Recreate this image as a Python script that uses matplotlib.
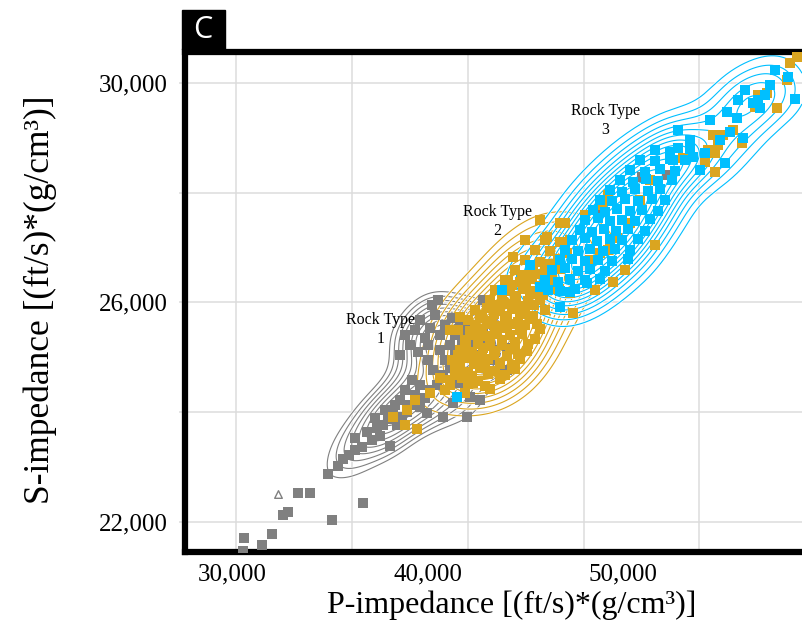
import numpy as np
import matplotlib.pyplot as plt
import matplotlib.patheffects as pe
from matplotlib.patches import Rectangle

# P-impedance / S-impedance samples for the three rock types
gray_pts = [
    (30560, 21470), (30610, 21710), (31530, 21580), (32050, 21780), (32610, 22120),
    (32860, 22180), (33380, 22530), (33990, 22530), (35120, 22030), (36700, 22340),
    (34910, 22870), (35420, 23020), (35680, 23150), (35980, 23220), (36290, 23310),
    (36650, 23360), (36290, 23530), (36910, 23640), (37420, 23710), (37720, 23770),
    (38080, 23380), (37980, 23870), (38240, 23980), (38700, 23910), (38950, 24000),
    (37160, 23490), (37570, 23560), (38440, 23770), (37830, 24040), (37310, 23890),
    (39620, 24090), (39970, 23980), (38590, 24220), (39100, 24130), (39360, 24310),
    (39870, 24260), (40130, 24400), (40490, 24490), (40280, 24770), (40790, 24680),
    (40890, 24950), (41150, 24810), (41410, 25040), (41660, 24530), (42170, 24280),
    (41300, 24170), (40790, 23910), (42020, 23910), (42690, 24220), (41760, 25260),
    (42170, 25130), (42430, 25310), (42840, 25500), (43200, 25640), (42840, 26040),
    (44070, 25170), (44070, 24770), (39620, 24490), (39210, 24590), (40030, 24950),
    (40640, 25130), (41150, 25220), (41920, 25500), (38850, 24400), (38340, 24130),
    (39360, 25500), (39620, 25680), (39870, 25350), (40130, 25530), (40380, 25770),
    (40640, 25410), (39100, 25220), (39510, 25100), (40030, 25220), (40890, 25590),
    (38850, 25410), (40230, 25950), (41250, 25720), (38590, 25040), (40540, 26040),
    (41410, 25410), (41920, 25220), (42430, 25040), (43200, 24950), (43710, 24860),
    (42940, 25220), (43450, 25130), (42170, 25590), (41660, 25680),
    (48720, 27630), (50970, 28290), (52250, 28320),
]
gray_open = [(32350, 22510)]

gold_pts = [
    (40890, 24400), (41920, 24350), (43200, 24430),
    (41150, 24590), (41760, 24620), (42580, 24560), (43710, 24600),
    (41410, 24770), (42070, 24730), (42690, 24800), (43450, 24750), (44480, 24790),
    (41250, 24950), (41920, 24990), (42430, 24920), (43090, 24960), (43710, 24900), (44730, 24970),
    (41660, 25130), (42280, 25100), (42840, 25160), (43450, 25120), (44220, 25150), (45090, 25110),
    (41920, 25310), (42580, 25340), (43200, 25290), (43810, 25320), (44480, 25280), (45500, 25330),
    (41560, 25500), (42170, 25470), (42790, 25520), (43450, 25480), (44070, 25530), (44730, 25490), (45750, 25510),
    (42070, 25680), (42690, 25710), (43300, 25660), (43960, 25700), (44630, 25650), (45240, 25690),
    (42430, 25860), (43040, 25890), (43710, 25840), (44320, 25880), (44990, 25850), (46010, 25870),
    (43200, 26040), (43860, 26010), (44480, 26060), (45140, 26030), (45750, 26050),
    (43450, 26230), (44220, 26200), (44880, 26250), (45500, 26210), (46270, 26240),
    (43960, 26410), (44730, 26380), (45350, 26430), (46160, 26400),
    (44480, 26590), (45240, 26620), (46010, 26570), (46780, 26600),
    (44990, 26770), (45750, 26740), (46670, 26790),
    (45500, 26960), (46270, 26930), (47030, 26970),
    (46010, 27140), (46780, 27110),
    (41150, 24490), (42070, 24510), (42940, 24470),
    (41560, 24680), (42280, 24650), (43090, 24700), (43960, 24670),
    (41660, 24860), (42380, 24880), (42940, 24840), (43710, 24870), (44320, 24850),
    (41560, 25040), (42170, 25060), (42790, 25020), (43400, 25050), (44070, 25030), (44630, 25060),
    (41970, 25220), (42580, 25240), (43200, 25200), (43810, 25230), (44480, 25210), (45140, 25240),
    (42280, 25410), (42940, 25390), (43550, 25430), (44220, 25400), (44830, 25420),
    (42430, 25590), (43040, 25610), (43710, 25570), (44320, 25600), (44990, 25580), (45600, 25610),
    (42790, 25770), (43400, 25790), (44070, 25750), (44730, 25780), (45400, 25760),
    (43450, 25950), (44120, 25970), (44730, 25930), (45450, 25960),
    (43810, 26140), (44530, 26120), (45240, 26160), (45910, 26130),
    (44320, 26320), (45040, 26340), (45750, 26300),
    (44830, 26500), (45600, 26520), (46370, 26480),
    (45400, 26680), (46270, 26700),
    (38240, 23910), (38950, 24040), (39360, 24220), (40130, 24350), (39460, 23690),
    (38850, 23770), (40640, 24630), (42320, 24530), (41660, 25740), (41150, 25500),
    (49230, 27960), (48930, 27780), (46110, 27190), (46780, 27450), (49690, 27170),
    (49230, 26960), (50360, 27450), (47290, 26170), (47440, 25810), (48310, 26770),
    (49490, 26370), (44120, 26410), (45090, 26460), (44370, 26830), (53070, 28630),
    (54710, 28720), (54710, 28380), (47030, 27450), (47290, 27140), (47130, 26900),
    (49340, 27010), (48820, 26900), (58540, 30360), (58900, 30470), (58390, 30050),
    (56910, 29780), (57370, 29820), (56760, 29560), (57880, 29540), (54600, 29050),
    (55110, 29050), (54860, 28870), (55630, 29140), (54350, 28780), (56090, 28910),
    (48060, 27590), (50870, 27870), (51640, 27050), (50100, 26590), (48570, 26230),
    (51380, 28230), (54190, 28560), (45750, 27500), (44990, 27140),
]

cyan_pts = [
    (46160, 26230), (46780, 26200), (47540, 26250),
    (46010, 26410), (46670, 26380), (47290, 26430), (48060, 26400), (48820, 26420),
    (46370, 26590), (47030, 26620), (47700, 26570), (48310, 26600), (49080, 26580),
    (46780, 26770), (47390, 26800), (48060, 26750), (48720, 26780), (49440, 26760), (50250, 26790),
    (47030, 26960), (47700, 26930), (48310, 26980), (48980, 26940), (49590, 26970), (50360, 26950),
    (47390, 27140), (48060, 27170), (48670, 27120), (49340, 27150), (49950, 27130), (50770, 27160),
    (47800, 27320), (48410, 27290), (49030, 27340), (49640, 27310), (50250, 27330), (51130, 27300),
    (48060, 27500), (48720, 27530), (49340, 27480), (49950, 27510), (50610, 27490), (51380, 27520),
    (48470, 27680), (49080, 27650), (49690, 27700), (50360, 27670), (50970, 27690), (51790, 27660),
    (48820, 27870), (49440, 27840), (50100, 27890), (50770, 27850), (51480, 27880), (52150, 27860),
    (49340, 28050), (49950, 28020), (50610, 28070), (51280, 28030), (51890, 28060),
    (49850, 28230), (50510, 28200), (51180, 28250), (51790, 28210), (52510, 28240),
    (50360, 28410), (51130, 28380), (51890, 28430), (52660, 28400),
    (50870, 28600), (51640, 28570), (52400, 28620), (53170, 28590),
    (51640, 28780), (52400, 28750), (53430, 28800),
    (58440, 30110), (58800, 29710), (56910, 29690), (56650, 29640), (57010, 29540),
    (55880, 29690), (55320, 29470), (55830, 29360), (55470, 29110), (54960, 28960),
    (56140, 29000), (52810, 29140), (52810, 28820), (54190, 28720), (53580, 28650),
    (55220, 28540), (53940, 28410), (52560, 28600), (57270, 29780), (57520, 29960),
    (56240, 29870), (57780, 30240), (54450, 29330), (53430, 28960),
    (41510, 24280), (43810, 26230), (45750, 26280), (46780, 25920), (47290, 26190),
    (48160, 26350), (45240, 26680),
]

# label, samples, colour, label position, contour count, lowest contour, kernel scale
groups = [
    ("Rock Type\n1", gray_pts, "#808080", (37620, 25515), 10, 0.26, 1.0),
    ("Rock Type\n2", gold_pts, "#DAA520", (43555, 27484), 12, 0.17, 1.3),
    ("Rock Type\n3", cyan_pts, "#00BFFF", (49080, 29325), 13, 0.12, 1.1),
]

x_ticks = [30000, 40000, 50000]
y_ticks = [22000, 24000, 26000, 28000, 30000]
y_labels = ["22,000", "", "26,000", "", "30,000"]
x_grid = [30200, 36140, 42070, 48000, 53890]

xlim = (27570, 59155)
ylim = (21450, 30565)
serif = "Liberation Serif"

fig = plt.figure(figsize=(8.02, 6.27), dpi=100)
ax = fig.add_axes([184.5 / 802, 75 / 627, 1 - 184.5 / 802, 500 / 627])

# kernel widths: same visual size along both axes
bw_x = 1050.0
bw_y = 370.0
gx = np.linspace(xlim[0], xlim[1], 400)
gy = np.linspace(ylim[0], ylim[1], 300)
GX, GY = np.meshgrid(gx, gy)


def density(arr, k):
    z = np.zeros_like(GX)
    for p, s in arr:
        z += np.exp(-0.5 * (((GX - p) / (bw_x * k)) ** 2 + ((GY - s) / (bw_y * k)) ** 2))
    return z


# density contours underneath, points on top
for _, pts, col, _, n, low, k in groups:
    z = density(pts, k)
    lev = np.linspace(low, 0.92, n) * z.max()
    cs = ax.contour(GX, GY, z, levels=lev, colors=col, linewidths=0.8, zorder=2)
    cs.set_path_effects([pe.Stroke(linewidth=1.9, foreground="white"), pe.Normal()])

for _, pts, col, _, _, _, _ in groups:
    arr = np.array(pts)
    ax.scatter(arr[:, 0], arr[:, 1], marker="s", s=46, c=col, linewidths=0, zorder=3)

op = np.array(gray_open)
ax.scatter(op[:, 0], op[:, 1], marker="^", s=30, facecolors="white",
           edgecolors="#808080", linewidths=1, zorder=3)

for name, _, _, pos, _, _, _ in groups:
    ax.text(pos[0], pos[1], name, ha="center", va="center", fontsize=11.5,
            family=serif, linespacing=1.25, zorder=4)

ax.set_xlim(*xlim)
ax.set_ylim(*ylim)

for g in x_grid:
    ax.axvline(g, color="#dcdcdc", lw=1.1, zorder=0)
ax.set_yticks(y_ticks)
ax.set_yticklabels(y_labels)
ax.yaxis.grid(True, color="#dcdcdc", lw=1.1, zorder=0)
ax.set_axisbelow(True)
ax.set_xticks(x_ticks)
ax.set_xticklabels([f"{v:,}" for v in x_ticks])
ax.tick_params(axis="x", length=0, pad=8, labelsize=18)
ax.tick_params(axis="y", length=4, width=1.1, color="#dcdcdc", pad=8, labelsize=18)
for lab in ax.get_xticklabels() + ax.get_yticklabels():
    lab.set_family(serif)

for side in ["top", "left", "bottom"]:
    ax.spines[side].set_linewidth(4.5)
    ax.spines[side].set_color("black")
ax.spines["right"].set_visible(False)

fig.text(512 / 802, 1 - 605 / 627, "P-impedance [(ft/s)*(g/cm³)]", ha="center",
         va="center", fontsize=23, family=serif)
fig.text(40 / 802, 1 - 300 / 627, "S-impedance [(ft/s)*(g/cm³)]", ha="center",
         va="center", rotation=90, fontsize=25.5, family=serif)

# panel letter
fig.add_artist(Rectangle((182 / 802, 1 - 49 / 627), 43 / 802, 39 / 627,
                         transform=fig.transFigure, color="black"))
fig.text(203 / 802, 1 - 30 / 627, "C", ha="center", va="center", color="white",
         fontsize=22, family="Open Sans")

fig.savefig("out.png", dpi=100)
